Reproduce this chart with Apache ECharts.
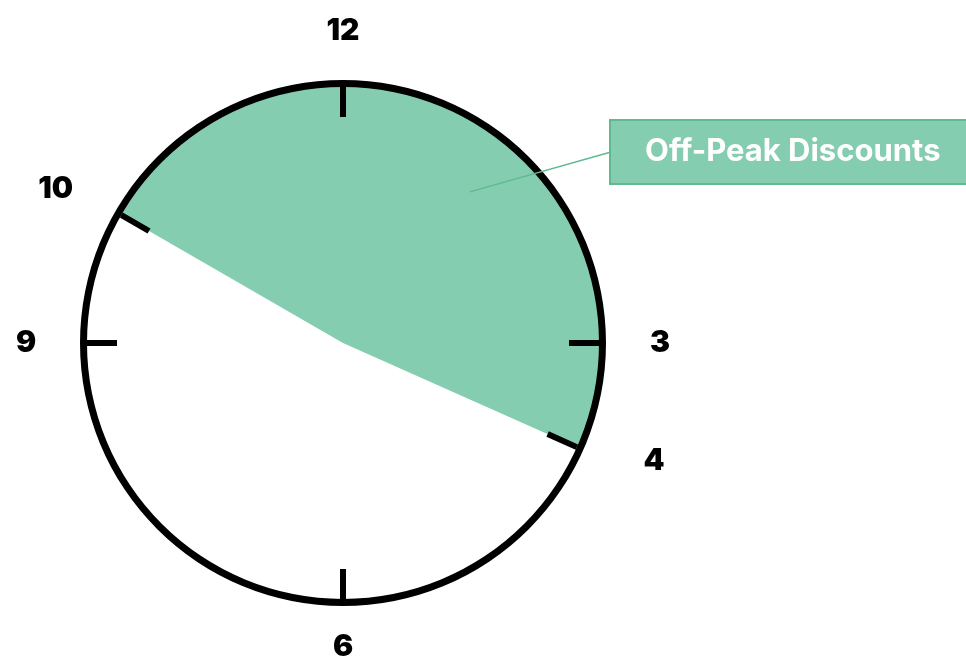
<!DOCTYPE html>
<html>
<head>
<meta charset="utf-8">
<script src="https://cdn.jsdelivr.net/npm/echarts@6/dist/echarts.min.js"></script>
<style>
  html, body { margin: 0; padding: 0; background: #fff; }
  #main { width: 966px; height: 656px; }
</style>
</head>
<body>
<div id="main"></div>
<script>
// clock hours
var clockLabels = ['12', '3', '6', '9'];
var boundaryLabels = ['10', '4'];
// off-peak window, in clock hours (as drawn)
var offPeakStart = 10;
var offPeakEnd = 3.8;
var sliceNames = ['Off-Peak Discounts', 'Other'];

var offPeakLen = (offPeakEnd - offPeakStart + 12) % 12;
var sliceValues = [offPeakLen, 12 - offPeakLen];

var cx = 343, cy = 343, R = 263;
var boxX = 611, boxY = 152;
var green = '#85cdb0';
var greenDark = '#5fba8f';
var font = 'Inter';

function hourAngle(h) { return 90 - h * 30; }

// leader line start, inside the sector
var la = 50 * Math.PI / 180;
var lineStart = [cx + R * 0.75 * Math.cos(la), cy - R * 0.75 * Math.sin(la)];

var numStyle = { fontFamily: font, fontWeight: 900, fontSize: 30, color: '#000' };

var chart = echarts.init(document.getElementById('main'));

var option = {
    animation: false,
    graphic: [{
        type: 'polyline',
        z: 5,
        silent: true,
        shape: { points: [lineStart, [boxX, boxY]] },
        style: { stroke: greenDark, lineWidth: 1.5, fill: null }
    }],
    series: [
        {
            // the off-peak sector
            type: 'pie',
            center: [cx, cy],
            radius: [0, R - 3],
            startAngle: hourAngle(offPeakStart),
            clockwise: true,
            silent: true,
            z: 1,
            data: [
                {
                    name: sliceNames[0], value: sliceValues[0],
                    itemStyle: { color: green },
                    label: {
                        show: true,
                        position: 'outside',
                        formatter: '{b}',
                        color: '#fff',
                        fontFamily: font,
                        fontWeight: 'bold',
                        fontSize: 31,
                        backgroundColor: green,
                        borderColor: greenDark,
                        borderWidth: 2,
                        padding: [16, 34, 15, 34]
                    },
                    labelLine: { show: false }
                },
                {
                    name: sliceNames[1], value: sliceValues[1],
                    itemStyle: { color: 'rgba(0,0,0,0)' },
                    label: { show: false }, labelLine: { show: false }
                }
            ],
            labelLayout: function (p) {
                if (p.dataIndex !== 0) return {};
                return { x: boxX, y: boxY, align: 'left', verticalAlign: 'middle' };
            }
        },
        {
            // clock face: outline, quarter ticks and labels
            type: 'gauge',
            center: [cx, cy],
            radius: R,
            startAngle: 90,
            endAngle: -270,
            min: 0,
            max: 12,
            splitNumber: 4,
            silent: true,
            z: 3,
            axisLine: { lineStyle: { width: 7, color: [[1, '#000']] } },
            axisTick: { show: false },
            splitLine: { length: 30, distance: 0, lineStyle: { color: '#000', width: 6, cap: 'butt' } },
            axisLabel: Object.assign({
                distance: -94,
                formatter: function (v) {
                    if (v === 0) return '';
                    var i = Math.round(v / 3) % 4;
                    return i === 2 ? '{low|' + clockLabels[i] + '}' : clockLabels[i];
                },
                rich: { low: Object.assign({ padding: [0, 0, 8, 0] }, numStyle) }
            }, numStyle),
            pointer: { show: false },
            anchor: { show: false },
            title: { show: false },
            detail: { show: false },
            data: [{ value: 0 }]
        },
        {
            // boundary ticks of the off-peak window
            type: 'gauge',
            center: [cx, cy],
            radius: R,
            startAngle: hourAngle(offPeakStart),
            endAngle: hourAngle(offPeakEnd) - 360,
            min: 0,
            max: 1,
            splitNumber: 1,
            silent: true,
            z: 4,
            axisLine: { show: false, lineStyle: { width: 7 } },
            axisTick: { show: false },
            splitLine: { length: 32, distance: 0, lineStyle: { color: '#000', width: 6, cap: 'butt' } },
            axisLabel: Object.assign({
                distance: -121,
                align: 'center',
                verticalAlign: 'middle',
                formatter: function (v) {
                    return v === 0 ? '{a|' + boundaryLabels[0] + '}' : '{b|' + boundaryLabels[1] + '}';
                },
                rich: {
                    a: Object.assign({ padding: [43, 0, 0, 0] }, numStyle),
                    b: Object.assign({ padding: [0, 0, 50, 16] }, numStyle)
                }
            }, numStyle),
            pointer: { show: false },
            anchor: { show: false },
            title: { show: false },
            detail: { show: false },
            data: [{ value: 0 }]
        }
    ]
};

chart.setOption(option);
</script>
</body>
</html>
